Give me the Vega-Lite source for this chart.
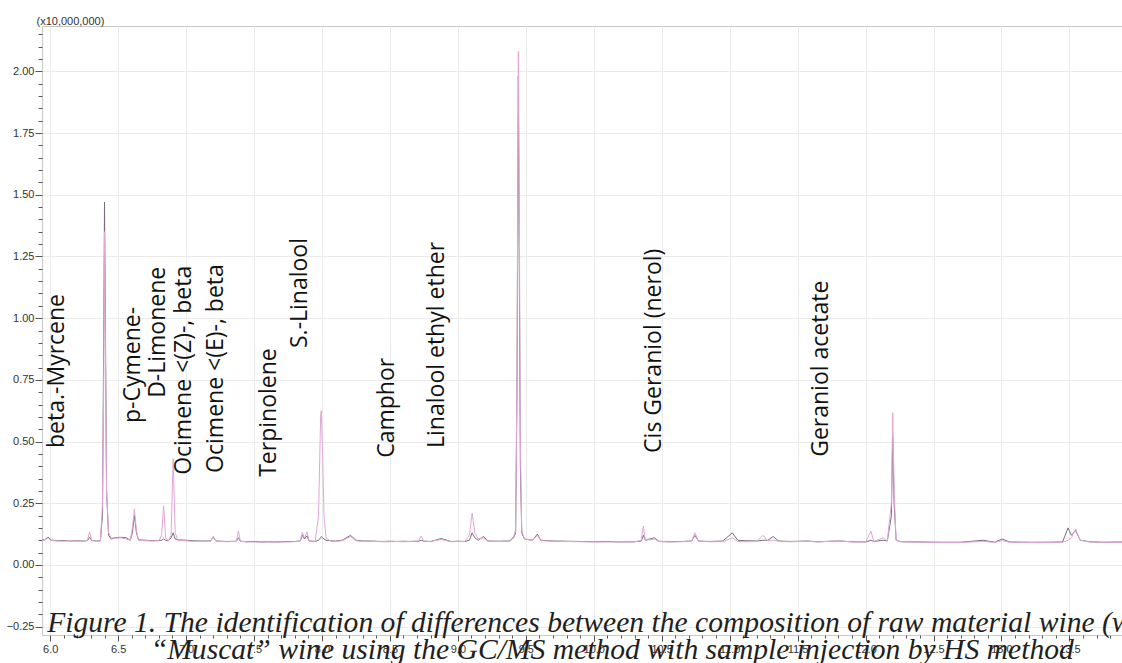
{
  "$schema": "https://vega.github.io/schema/vega-lite/v6.json",
  "autosize": {"type": "none"},
  "padding": {"left": 42, "top": 26, "right": 0, "bottom": 28},
  "width": 1080,
  "height": 609,
  "background": "white",
  "config": {
    "view": {"stroke": "#c8c8c8", "strokeWidth": 1},
    "axis": {"labelFont": "Liberation Sans", "labelFontSize": 11, "labelColor": "#333", "tickColor": "#555", "domain": false, "gridColor": "#ebebeb", "gridWidth": 1}
  },
  "datasets": {
    "chrom": [
      {"t": 5.94, "dark": 0.100, "pink": 0.098},
      {"t": 5.96, "dark": 0.102, "pink": 0.100},
      {"t": 5.985, "dark": 0.113, "pink": 0.110},
      {"t": 6.005, "dark": 0.101, "pink": 0.099},
      {"t": 6.05, "dark": 0.098, "pink": 0.097},
      {"t": 6.10, "dark": 0.099, "pink": 0.096},
      {"t": 6.15, "dark": 0.097, "pink": 0.098},
      {"t": 6.20, "dark": 0.098, "pink": 0.096},
      {"t": 6.25, "dark": 0.097, "pink": 0.097},
      {"t": 6.275, "dark": 0.099, "pink": 0.100},
      {"t": 6.29, "dark": 0.112, "pink": 0.134},
      {"t": 6.305, "dark": 0.099, "pink": 0.100},
      {"t": 6.34, "dark": 0.097, "pink": 0.096},
      {"t": 6.37, "dark": 0.098, "pink": 0.097},
      {"t": 6.385, "dark": 0.20, "pink": 0.25},
      {"t": 6.395, "dark": 1.00, "pink": 0.80},
      {"t": 6.40, "dark": 1.47, "pink": 1.35},
      {"t": 6.405, "dark": 1.10, "pink": 1.00},
      {"t": 6.415, "dark": 0.30, "pink": 0.30},
      {"t": 6.43, "dark": 0.12, "pink": 0.13},
      {"t": 6.45, "dark": 0.105, "pink": 0.11},
      {"t": 6.48, "dark": 0.11, "pink": 0.108},
      {"t": 6.52, "dark": 0.112, "pink": 0.11},
      {"t": 6.56, "dark": 0.11, "pink": 0.105},
      {"t": 6.59, "dark": 0.10, "pink": 0.10},
      {"t": 6.605, "dark": 0.13, "pink": 0.15},
      {"t": 6.62, "dark": 0.20, "pink": 0.227},
      {"t": 6.635, "dark": 0.13, "pink": 0.14},
      {"t": 6.65, "dark": 0.102, "pink": 0.10},
      {"t": 6.70, "dark": 0.100, "pink": 0.098},
      {"t": 6.75, "dark": 0.098, "pink": 0.097},
      {"t": 6.80, "dark": 0.099, "pink": 0.098},
      {"t": 6.82, "dark": 0.10, "pink": 0.12},
      {"t": 6.835, "dark": 0.105, "pink": 0.24},
      {"t": 6.85, "dark": 0.10, "pink": 0.11},
      {"t": 6.87, "dark": 0.098, "pink": 0.097},
      {"t": 6.89, "dark": 0.11, "pink": 0.12},
      {"t": 6.905, "dark": 0.13, "pink": 0.43},
      {"t": 6.92, "dark": 0.105, "pink": 0.13},
      {"t": 6.94, "dark": 0.102, "pink": 0.10},
      {"t": 7.00, "dark": 0.100, "pink": 0.098},
      {"t": 7.05, "dark": 0.098, "pink": 0.095},
      {"t": 7.10, "dark": 0.097, "pink": 0.096},
      {"t": 7.18, "dark": 0.097, "pink": 0.095},
      {"t": 7.20, "dark": 0.112, "pink": 0.117},
      {"t": 7.22, "dark": 0.097, "pink": 0.095},
      {"t": 7.30, "dark": 0.095, "pink": 0.094},
      {"t": 7.37, "dark": 0.096, "pink": 0.095},
      {"t": 7.385, "dark": 0.11, "pink": 0.137},
      {"t": 7.40, "dark": 0.096, "pink": 0.096},
      {"t": 7.45, "dark": 0.094, "pink": 0.093},
      {"t": 7.50, "dark": 0.095, "pink": 0.093},
      {"t": 7.55, "dark": 0.093, "pink": 0.092},
      {"t": 7.60, "dark": 0.094, "pink": 0.093},
      {"t": 7.65, "dark": 0.093, "pink": 0.092},
      {"t": 7.70, "dark": 0.094, "pink": 0.093},
      {"t": 7.75, "dark": 0.095, "pink": 0.093},
      {"t": 7.80, "dark": 0.095, "pink": 0.094},
      {"t": 7.84, "dark": 0.097, "pink": 0.097},
      {"t": 7.855, "dark": 0.12, "pink": 0.132},
      {"t": 7.872, "dark": 0.105, "pink": 0.11},
      {"t": 7.89, "dark": 0.118, "pink": 0.134},
      {"t": 7.905, "dark": 0.097, "pink": 0.098},
      {"t": 7.95, "dark": 0.095, "pink": 0.095},
      {"t": 7.975, "dark": 0.10, "pink": 0.20},
      {"t": 7.99, "dark": 0.11, "pink": 0.60},
      {"t": 7.995, "dark": 0.115, "pink": 0.625},
      {"t": 8.005, "dark": 0.11, "pink": 0.45},
      {"t": 8.015, "dark": 0.105, "pink": 0.20},
      {"t": 8.03, "dark": 0.10, "pink": 0.11},
      {"t": 8.06, "dark": 0.098, "pink": 0.097},
      {"t": 8.10, "dark": 0.097, "pink": 0.095},
      {"t": 8.15, "dark": 0.10, "pink": 0.098},
      {"t": 8.21, "dark": 0.12, "pink": 0.115},
      {"t": 8.25, "dark": 0.10, "pink": 0.098},
      {"t": 8.30, "dark": 0.097, "pink": 0.095},
      {"t": 8.35, "dark": 0.097, "pink": 0.096},
      {"t": 8.40, "dark": 0.096, "pink": 0.095},
      {"t": 8.45, "dark": 0.095, "pink": 0.094},
      {"t": 8.50, "dark": 0.096, "pink": 0.094},
      {"t": 8.55, "dark": 0.095, "pink": 0.095},
      {"t": 8.60, "dark": 0.096, "pink": 0.094},
      {"t": 8.65, "dark": 0.095, "pink": 0.095},
      {"t": 8.71, "dark": 0.096, "pink": 0.097},
      {"t": 8.73, "dark": 0.10, "pink": 0.117},
      {"t": 8.75, "dark": 0.096, "pink": 0.096},
      {"t": 8.80, "dark": 0.095, "pink": 0.095},
      {"t": 8.877, "dark": 0.107, "pink": 0.103},
      {"t": 8.95, "dark": 0.095, "pink": 0.094},
      {"t": 9.00, "dark": 0.096, "pink": 0.095},
      {"t": 9.05, "dark": 0.095, "pink": 0.095},
      {"t": 9.085, "dark": 0.10, "pink": 0.12},
      {"t": 9.105, "dark": 0.13, "pink": 0.21},
      {"t": 9.125, "dark": 0.11, "pink": 0.13},
      {"t": 9.15, "dark": 0.10, "pink": 0.105},
      {"t": 9.19, "dark": 0.115, "pink": 0.11},
      {"t": 9.22, "dark": 0.097, "pink": 0.096},
      {"t": 9.30, "dark": 0.096, "pink": 0.095},
      {"t": 9.38, "dark": 0.097, "pink": 0.096},
      {"t": 9.41, "dark": 0.11, "pink": 0.115},
      {"t": 9.425, "dark": 0.13, "pink": 0.14},
      {"t": 9.435, "dark": 0.70, "pink": 0.75},
      {"t": 9.445, "dark": 1.98, "pink": 2.08},
      {"t": 9.452, "dark": 1.20, "pink": 1.50},
      {"t": 9.46, "dark": 0.40, "pink": 0.50},
      {"t": 9.47, "dark": 0.13, "pink": 0.14},
      {"t": 9.49, "dark": 0.105, "pink": 0.105},
      {"t": 9.55, "dark": 0.10, "pink": 0.10},
      {"t": 9.585, "dark": 0.125, "pink": 0.12},
      {"t": 9.61, "dark": 0.10, "pink": 0.098},
      {"t": 9.70, "dark": 0.097, "pink": 0.096},
      {"t": 9.80, "dark": 0.096, "pink": 0.095},
      {"t": 9.90, "dark": 0.095, "pink": 0.094},
      {"t": 10.00, "dark": 0.094, "pink": 0.093},
      {"t": 10.10, "dark": 0.095, "pink": 0.093},
      {"t": 10.20, "dark": 0.093, "pink": 0.094},
      {"t": 10.30, "dark": 0.094, "pink": 0.093},
      {"t": 10.35, "dark": 0.097, "pink": 0.10},
      {"t": 10.365, "dark": 0.12, "pink": 0.158},
      {"t": 10.38, "dark": 0.10, "pink": 0.10},
      {"t": 10.445, "dark": 0.11, "pink": 0.105},
      {"t": 10.48, "dark": 0.096, "pink": 0.095},
      {"t": 10.55, "dark": 0.094, "pink": 0.093},
      {"t": 10.65, "dark": 0.095, "pink": 0.094},
      {"t": 10.72, "dark": 0.097, "pink": 0.097},
      {"t": 10.745, "dark": 0.12, "pink": 0.13},
      {"t": 10.77, "dark": 0.097, "pink": 0.096},
      {"t": 10.85, "dark": 0.095, "pink": 0.094},
      {"t": 10.95, "dark": 0.097, "pink": 0.094},
      {"t": 11.02, "dark": 0.13, "pink": 0.11},
      {"t": 11.06, "dark": 0.10, "pink": 0.095},
      {"t": 11.12, "dark": 0.098, "pink": 0.094},
      {"t": 11.20, "dark": 0.097, "pink": 0.095},
      {"t": 11.245, "dark": 0.10, "pink": 0.12},
      {"t": 11.28, "dark": 0.10, "pink": 0.097},
      {"t": 11.32, "dark": 0.115, "pink": 0.10},
      {"t": 11.36, "dark": 0.097, "pink": 0.095},
      {"t": 11.45, "dark": 0.095, "pink": 0.094},
      {"t": 11.57, "dark": 0.097, "pink": 0.096},
      {"t": 11.65, "dark": 0.094, "pink": 0.093},
      {"t": 11.80, "dark": 0.097, "pink": 0.098},
      {"t": 11.90, "dark": 0.094, "pink": 0.093},
      {"t": 12.00, "dark": 0.093, "pink": 0.093},
      {"t": 12.04, "dark": 0.10, "pink": 0.137},
      {"t": 12.06, "dark": 0.095, "pink": 0.095},
      {"t": 12.13, "dark": 0.10, "pink": 0.11},
      {"t": 12.16, "dark": 0.097, "pink": 0.097},
      {"t": 12.19, "dark": 0.20, "pink": 0.25},
      {"t": 12.20, "dark": 0.52, "pink": 0.616},
      {"t": 12.21, "dark": 0.25, "pink": 0.30},
      {"t": 12.225, "dark": 0.10, "pink": 0.10},
      {"t": 12.26, "dark": 0.094, "pink": 0.094},
      {"t": 12.40, "dark": 0.093, "pink": 0.092},
      {"t": 12.55, "dark": 0.092, "pink": 0.091},
      {"t": 12.70, "dark": 0.092, "pink": 0.091},
      {"t": 12.865, "dark": 0.10, "pink": 0.095},
      {"t": 12.95, "dark": 0.092, "pink": 0.091},
      {"t": 13.005, "dark": 0.105, "pink": 0.098},
      {"t": 13.06, "dark": 0.093, "pink": 0.092},
      {"t": 13.20, "dark": 0.092, "pink": 0.091},
      {"t": 13.30, "dark": 0.092, "pink": 0.090},
      {"t": 13.45, "dark": 0.093, "pink": 0.092},
      {"t": 13.49, "dark": 0.15, "pink": 0.10},
      {"t": 13.515, "dark": 0.12, "pink": 0.11},
      {"t": 13.545, "dark": 0.14, "pink": 0.146},
      {"t": 13.58, "dark": 0.10, "pink": 0.10},
      {"t": 13.65, "dark": 0.094, "pink": 0.093},
      {"t": 13.75, "dark": 0.092, "pink": 0.092},
      {"t": 13.89, "dark": 0.093, "pink": 0.092}
    ],
    "peaks": [
      {"name": "beta.-Myrcene", "t": 6.103, "v": 0.474},
      {"name": "p-Cymene-", "t": 6.662, "v": 0.575},
      {"name": "D-Limonene", "t": 6.846, "v": 0.677},
      {"name": "Ocimene <(Z)-, beta", "t": 7.038, "v": 0.365},
      {"name": "Ocimene <(E)-, beta", "t": 7.273, "v": 0.373},
      {"name": "Terpinolene", "t": 7.663, "v": 0.357},
      {"name": "S.-Linalool", "t": 7.891, "v": 0.879},
      {"name": "Camphor", "t": 8.531, "v": 0.434},
      {"name": "Linalool ethyl ether", "t": 8.899, "v": 0.474},
      {"name": "Cis Geraniol (nerol)", "t": 10.496, "v": 0.454},
      {"name": "Geraniol acetate", "t": 11.725, "v": 0.438}
    ]
  },
  "resolve": {"axis": {"x": "independent", "y": "independent"}},
  "layer": [
    {
      "data": {"name": "chrom"},
      "mark": {"type": "line", "color": "#7d6a7b", "strokeWidth": 1},
      "encoding": {
        "x": {"field": "t", "type": "quantitative",
              "scale": {"domain": [5.94, 13.887], "nice": false, "zero": false},
              "axis": {"orient": "bottom", "title": null, "values": [6.0, 6.5, 7.0, 7.5, 8.0, 8.5, 9.0, 9.5, 10.0, 10.5, 11.0, 11.5, 12.0, 12.5, 13.0, 13.5], "format": ".1f", "grid": true, "tickSize": 6, "labelPadding": 2, "labelOverlap": false, "labelFlush": false}},
        "y": {"field": "dark", "type": "quantitative",
              "scale": {"domain": [-0.284, 2.184], "nice": false, "zero": false},
              "axis": {"orient": "left", "values": [-0.25, 0, 0.25, 0.5, 0.75, 1.0, 1.25, 1.5, 1.75, 2.0], "format": ".2f", "grid": true, "tickSize": 7, "labelPadding": 1, "labelOverlap": false, "labelFlush": false,
                       "title": "(x10,000,000)", "titleAngle": 0, "titleAlign": "left", "titleBaseline": "alphabetic", "titleX": -6, "titleY": -2, "titleFont": "Liberation Sans", "titleFontSize": 11, "titleFontWeight": "normal", "titleColor": "#333"}}
      }
    },
    {
      "data": {"name": "chrom"},
      "mark": {"type": "line", "color": "#e3a6d6", "strokeWidth": 1},
      "encoding": {
        "x": {"field": "t", "type": "quantitative",
              "axis": {"orient": "bottom", "title": null, "labels": false, "grid": false, "domain": false, "tickSize": 3,
                       "values": [6.1, 6.2, 6.3, 6.4, 6.6, 6.7, 6.8, 6.9, 7.1, 7.2, 7.3, 7.4, 7.6, 7.7, 7.8, 7.9, 8.1, 8.2, 8.3, 8.4, 8.6, 8.7, 8.8, 8.9, 9.1, 9.2, 9.3, 9.4, 9.6, 9.7, 9.8, 9.9, 10.1, 10.2, 10.3, 10.4, 10.6, 10.7, 10.8, 10.9, 11.1, 11.2, 11.3, 11.4, 11.6, 11.7, 11.8, 11.9, 12.1, 12.2, 12.3, 12.4, 12.6, 12.7, 12.8, 12.9, 13.1, 13.2, 13.3, 13.4, 13.6, 13.7, 13.8]}},
        "y": {"field": "pink", "type": "quantitative",
              "axis": {"orient": "left", "title": null, "labels": false, "grid": false, "domain": false, "tickSize": 4,
                       "values": [-0.2, -0.15, -0.1, -0.05, 0.05, 0.1, 0.15, 0.2, 0.3, 0.35, 0.4, 0.45, 0.55, 0.6, 0.65, 0.7, 0.8, 0.85, 0.9, 0.95, 1.05, 1.1, 1.15, 1.2, 1.3, 1.35, 1.4, 1.45, 1.55, 1.6, 1.65, 1.7, 1.8, 1.85, 1.9, 1.95, 2.05, 2.1, 2.15]}}
      }
    },
    {
      "data": {"name": "peaks"},
      "mark": {"type": "text", "angle": -90, "align": "left", "baseline": "alphabetic", "font": "Open Sans", "fontSize": 23, "color": "#111"},
      "encoding": {
        "x": {"field": "t", "type": "quantitative", "axis": null},
        "y": {"field": "v", "type": "quantitative", "axis": null},
        "text": {"field": "name"}
      }
    },
    {
      "data": {"values": [{}]},
      "mark": {"type": "text", "align": "left", "baseline": "alphabetic", "font": "Liberation Serif", "fontStyle": "italic", "fontSize": 29.6, "color": "#231f20"},
      "encoding": {
        "x": {"datum": 5.978, "type": "quantitative", "axis": null},
        "y": {"datum": -0.2715, "type": "quantitative", "axis": null},
        "text": {"value": "Figure 1. The identification of differences between the composition of raw material wine (w"}
      }
    },
    {
      "data": {"values": [{}]},
      "mark": {"type": "text", "align": "left", "baseline": "alphabetic", "font": "Liberation Serif", "fontStyle": "italic", "fontSize": 29.6, "color": "#231f20"},
      "encoding": {
        "x": {"datum": 6.74, "type": "quantitative", "axis": null},
        "y": {"datum": -0.381, "type": "quantitative", "axis": null},
        "text": {"value": "“Muscat” wine using the GC/MS method with sample injection by HS method"}
      }
    }
  ]
}
